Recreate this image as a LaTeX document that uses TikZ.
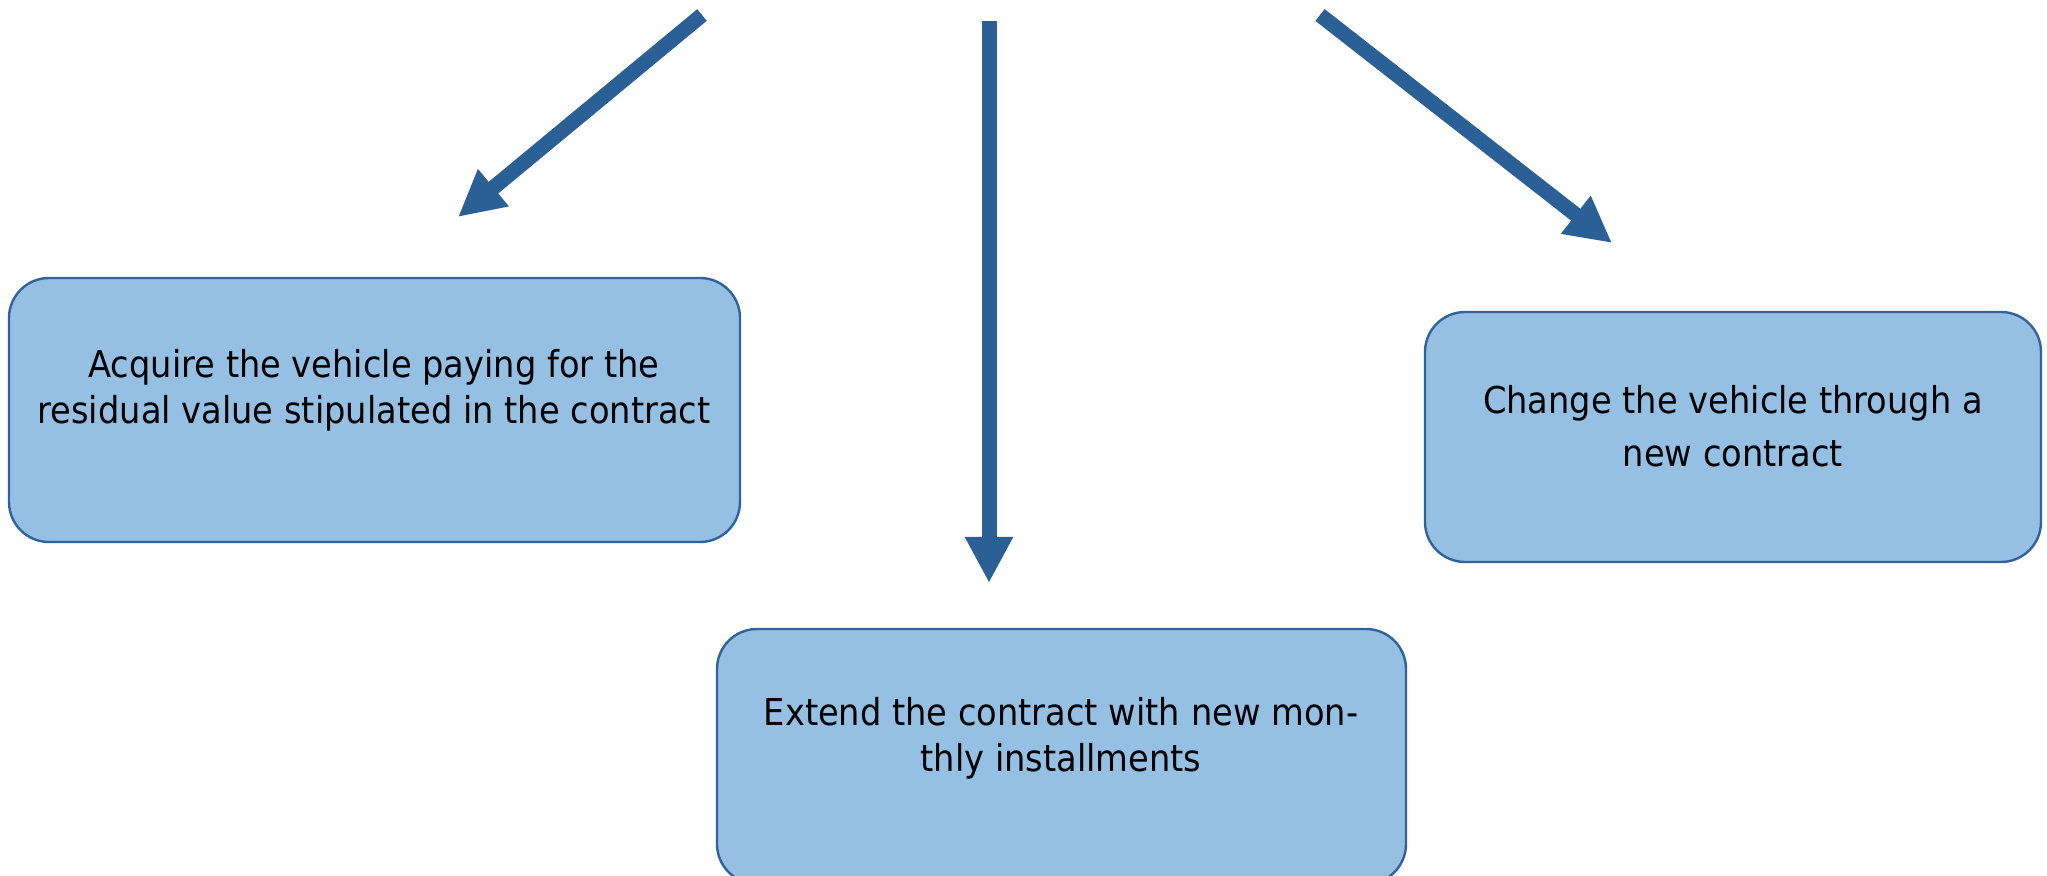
\documentclass[tikz,border=0pt]{standalone}
\usepackage{fontspec}
\setmainfont{DejaVu Sans}[FakeStretch=0.91]
\usetikzlibrary{arrows.meta}
\definecolor{boxfill}{HTML}{95C0E3}
\definecolor{boxline}{HTML}{2F6399}
\definecolor{arrowc}{HTML}{2A6096}
\begin{document}
\begin{tikzpicture}[x=0.5pt,y=-0.5pt,
  optbox/.style={draw=boxline, line width=1.2pt, fill=boxfill, rounded corners=20pt, inner sep=0pt},
  bigarrow/.style={draw=arrowc, line width=7.5pt, -{Triangle[width=22.5pt,length=23pt,fill=arrowc]}},
  txt/.style={align=center, font=\fontsize{18.5}{23}\selectfont, inner sep=0pt}]
\clip (0,0) rectangle (2047,876);
\fill[white] (0,0) rectangle (2047,876);
% boxes
\node[optbox, minimum width=365.5pt, minimum height=132pt] (boxL) at (374.5,410) {};
\node[optbox, minimum width=344.5pt, minimum height=127.5pt] (boxM) at (1061.5,756.5) {};
\node[optbox, minimum width=308pt, minimum height=125pt] (boxR) at (1733,437) {};
% texts
\node[txt] (tL) at (374,390) {Acquire the vehicle paying for the\\residual value stipulated in the contract};
\node[txt] (tM) at (1061,738) {Extend the contract with new mon-\\thly installments};
\node[txt, font=\fontsize{18.5}{26.5}\selectfont] (tR) at (1733,426) {Change the vehicle through a\\new contract};
% arrows
\coordinate (sL) at (702,15);
\coordinate (eL) at (458,217);
\coordinate (sM) at (989,21);
\coordinate (eM) at (989,583);
\coordinate (sR) at (1320,15);
\coordinate (eR) at (1612,243);
\draw[bigarrow] (sL) -- (eL);
\draw[bigarrow] (sM) -- (eM);
\draw[bigarrow] (sR) -- (eR);
\end{tikzpicture}
\end{document}
